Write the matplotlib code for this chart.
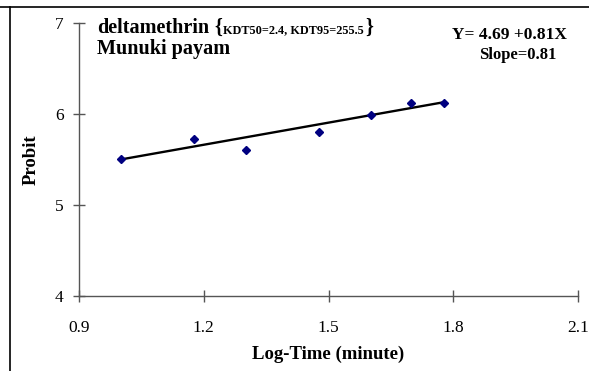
import matplotlib.pyplot as plt
import numpy as np
from matplotlib.lines import Line2D

# probit data for deltamethrin knockdown
log_time = [1.0, 1.176, 1.301, 1.477, 1.602, 1.699, 1.778]
probit = [5.51, 5.725, 5.60, 5.805, 5.99, 6.124, 6.124]
intercept = 4.69
slope = 0.81
x_ticks = [0.9, 1.2, 1.5, 1.8, 2.1]
y_ticks = [4, 5, 6, 7]

plt.rcParams["font.family"] = "Liberation Serif"

fig = plt.figure(figsize=(5.89, 3.71), dpi=100)
ax = fig.add_axes([79 / 589, 75 / 371, 499 / 589, 273 / 371])

xs = np.array([log_time[0], log_time[-1]])
ax.plot(xs, intercept + slope * xs, color="black", lw=1.7, zorder=2)
ax.plot(log_time, probit, "D", color="#000080", markersize=4.5, zorder=3)

ax.set_xlim(0.9, 2.1)
ax.set_ylim(4, 7)
ax.set_xticks(x_ticks)
ax.set_xticklabels([f"{v:.1f}" for v in x_ticks])
ax.set_yticks(y_ticks)
for s in ["top", "right"]:
    ax.spines[s].set_visible(False)
for s in ["left", "bottom"]:
    ax.spines[s].set_color("#555555")
    ax.spines[s].set_linewidth(1.0)
ax.tick_params(direction="inout", length=8, width=1, color="#555555",
               labelsize=12.5)
ax.tick_params(axis="x", pad=13)
ax.tick_params(axis="y", pad=7)

ax.set_xlabel("Log-Time (minute)", fontsize=13.5, fontweight="bold", labelpad=7)
ax.set_ylabel("Probit", fontsize=13.5, fontweight="bold", labelpad=11)

# title block, upper left
ax.text(0.036, 0.962, "deltamethrin", transform=ax.transAxes, fontsize=14.5,
        fontweight="bold", va="baseline")
ax.text(0.2705, 0.962, "{", transform=ax.transAxes, fontsize=14.5,
        fontweight="bold", va="baseline")
ax.text(0.2886, 0.962, "KDT50=2.4, KDT95=255.5", transform=ax.transAxes,
        fontsize=8.8, fontweight="bold", va="baseline")
ax.text(0.574, 0.962, "}", transform=ax.transAxes, fontsize=14.5,
        fontweight="bold", va="baseline")
ax.text(0.036, 0.885, "Munuki payam", transform=ax.transAxes, fontsize=14.5,
        fontweight="bold", va="baseline")

# regression equation, upper right
ax.text(0.978, 0.942, f"Y= {intercept:.2f} +{slope:.2f}X", transform=ax.transAxes,
        fontsize=12.5, fontweight="bold", ha="right", va="baseline")
ax.text(0.956, 0.868, f"Slope={slope:.2f}", transform=ax.transAxes,
        fontsize=12, fontweight="bold", ha="right", va="baseline")

# chart border on the top and left edges
fig.add_artist(Line2D([0, 1], [1 - 7 / 371] * 2, color="black", lw=1.2))
fig.add_artist(Line2D([10 / 589] * 2, [0, 1 - 7 / 371], color="black", lw=1.2))

fig.savefig("out.png", dpi=100)
